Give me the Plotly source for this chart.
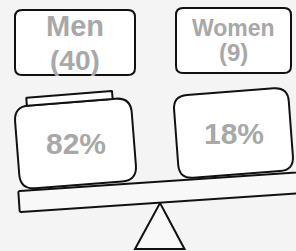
import math
import plotly.graph_objects as go

# ---- data ----
categories = ["Men", "Women"]
counts = [40, 9]
total = sum(counts)
percents = [round(100 * c / total) for c in counts]

# ---- style ----
BG = "#f4f4f4"
TXT = "#a8a8a8"
LINE = "#111111"
FONT = "Liberation Sans, Arial, sans-serif"

W, H = 296, 251


def rot_pt(cx, cy, ang, dx, dy):
    t = math.radians(ang)
    c, s = math.cos(t), math.sin(t)
    return (cx + dx * c + dy * s, cy - dx * s + dy * c)


def rrect_path(cx, cy, w, h, r, ang=0.0):
    hw, hh = w / 2, h / 2
    seq = [
        ("M", [(-hw + r, -hh)]),
        ("L", [(hw - r, -hh)]), ("Q", [(hw, -hh), (hw, -hh + r)]),
        ("L", [(hw, hh - r)]), ("Q", [(hw, hh), (hw - r, hh)]),
        ("L", [(-hw + r, hh)]), ("Q", [(-hw, hh), (-hw, hh - r)]),
        ("L", [(-hw, -hh + r)]), ("Q", [(-hw, -hh), (-hw + r, -hh)]),
    ]
    parts = []
    for cmd, pts in seq:
        coords = []
        for dx, dy in pts:
            x, y = rot_pt(cx, cy, ang, dx, dy)
            coords.append(f"{x:.2f},{y:.2f}")
        parts.append(cmd + " " + " ".join(coords))
    return " ".join(parts) + " Z"


fig = go.Figure()
fig.add_trace(go.Scatter(x=[0, W], y=[0, H], mode="markers",
                         marker=dict(opacity=0), hoverinfo="skip", showlegend=False))

shapes = []
annotations = []

# fulcrum
shapes.append(dict(type="path", path="M 160,203 L 184.5,249 L 135,249 Z",
                   fillcolor="#f8f8f8", line=dict(color=LINE, width=2), layer="above"))

# plank
p_ang = 3.8
p_len = 340
p_th = 21
lx, ly = 19, 201.5
pcx = lx + (p_len / 2) * math.cos(math.radians(p_ang))
pcy = ly - (p_len / 2) * math.sin(math.radians(p_ang))
shapes.append(dict(type="path", path=rrect_path(pcx, pcy, p_len, p_th, 1.5, p_ang),
                   fillcolor="#f8f8f8", line=dict(color=LINE, width=2), layer="above"))

# weight boxes
box_specs = [
    dict(cx=75.5, cy=143.5, w=117, h=83, r=15, ang=4.5),
    dict(cx=233.5, cy=133, w=115, h=83, r=14, ang=4.3),
]
label_specs = [
    dict(cx=75, cy=42.5, w=120, h=65, fs1=29, fs2=28, y1=26, y2=60.5),
    dict(cx=233.5, cy=40.5, w=115, h=65, fs1=23, fs2=24, y1=27.5, y2=52),
]

for i, cat in enumerate(categories):
    b = box_specs[i]
    shapes.append(dict(type="path",
                       path=rrect_path(b["cx"], b["cy"], b["w"], b["h"], b["r"], b["ang"]),
                       fillcolor="#ffffff", line=dict(color=LINE, width=2), layer="above"))
    if i == 0:
        # lid on the heavier weight
        lid_h = 8
        lcx, lcy = rot_pt(b["cx"], b["cy"], b["ang"], -2.5, -b["h"] / 2 - lid_h / 2)
        shapes.append(dict(type="path", path=rrect_path(lcx, lcy, 86, lid_h, 0.5, b["ang"]),
                           fillcolor="#ffffff", line=dict(color=LINE, width=2), layer="above"))
    annotations.append(dict(x=b["cx"], y=b["cy"], text=f"{percents[i]}%", showarrow=False,
                            xanchor="center", yanchor="middle",
                            font=dict(family=FONT, size=30, color=TXT, weight="bold")))

    L = label_specs[i]
    shapes.append(dict(type="path",
                       path=rrect_path(L["cx"], L["cy"], L["w"], L["h"], 7, 0),
                       fillcolor="#ffffff", line=dict(color=LINE, width=2), layer="above"))
    annotations.append(dict(x=L["cx"], y=L["y1"], text=cat, showarrow=False,
                            xanchor="center", yanchor="middle",
                            font=dict(family=FONT, size=L["fs1"], color=TXT, weight="bold")))
    annotations.append(dict(x=L["cx"], y=L["y2"], text=f"({counts[i]})", showarrow=False,
                            xanchor="center", yanchor="middle",
                            font=dict(family=FONT, size=L["fs2"], color=TXT, weight="bold")))

fig.update_layout(
    width=W, height=H, autosize=False,
    margin=dict(l=0, r=0, t=0, b=0),
    paper_bgcolor=BG, plot_bgcolor=BG,
    xaxis=dict(range=[0, W], visible=False, fixedrange=True),
    yaxis=dict(range=[H, 0], visible=False, fixedrange=True),
    shapes=shapes, annotations=annotations,
    showlegend=False,
)

fig.write_html("out.html", config={"displayModeBar": False, "staticPlot": True},
               post_script="document.body.style.margin='0';")
